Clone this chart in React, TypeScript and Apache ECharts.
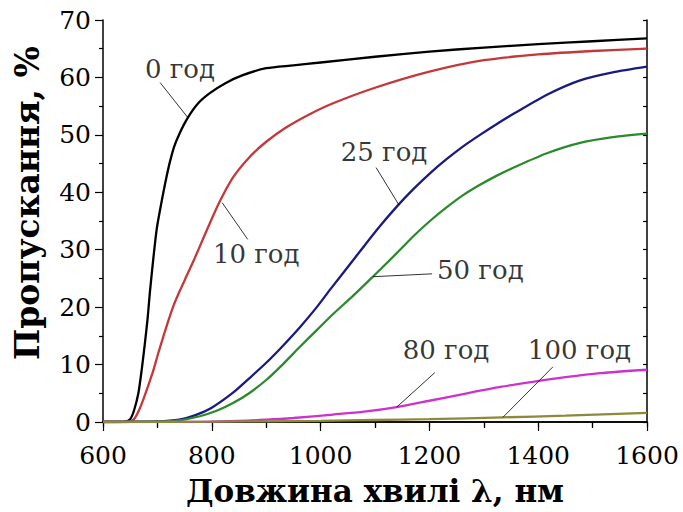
import React, { useEffect, useRef } from "react";
import * as echarts from "echarts";

const xTicks = [600, 800, 1000, 1200, 1400, 1600];
const yTicks = [0, 10, 20, 30, 40, 50, 60, 70];
const xTitle = "Довжина хвилі λ, нм";
const yTitle = "Пропускання, %";

const seriesNames = ["0 год", "10 год", "25 год", "50 год", "80 год", "100 год"];
const seriesColors = ["#000000", "#c4383a", "#1a1a82", "#2b8a2b", "#cc33cc", "#8c8a38"];

const s0: [number, number][] = [
  [600, 0], [630, 0], [640, 0.05], [650, 0.5], [657, 2], [665, 5], [671, 9], [677, 13.7],
  [682, 18], [686, 22.4], [692, 28], [698.6, 33.5], [705, 37], [711, 40], [717, 42.8],
  [723, 45.3], [731, 48], [741, 50.3], [756, 53], [775, 55.5], [797, 57.3], [825, 59],
  [857, 60.4], [900, 61.6], [950, 62.1], [1000, 62.6], [1100, 63.6], [1200, 64.5],
  [1300, 65.2], [1400, 65.8], [1500, 66.3], [1600, 66.8],
];
const s10: [number, number][] = [
  [600, 0], [645, 0], [651, 0.1], [658, 0.6], [666, 2], [674, 3.9], [683, 6.3], [692, 8.8],
  [701, 11.8], [711, 14.9], [720, 17.6], [729, 20.1], [741, 22.8], [754, 25.5], [768, 28.4],
  [784, 31.9], [800, 35.4], [815, 38.5], [839, 42.6], [870, 46.2], [900, 48.8], [935, 51.2],
  [980, 53.6], [1023, 55.5], [1100, 58.2], [1200, 61.0], [1300, 63.0], [1400, 64.0],
  [1500, 64.6], [1600, 65.0],
];
const s25: [number, number][] = [
  [600, 0], [700, 0.1], [740, 0.4], [770, 1.2], [800, 2.5], [839, 5.1], [870, 7.7],
  [901, 10.4], [930, 13.2], [962, 16.5], [993, 20], [1017, 23.0], [1050, 27], [1078, 30.4],
  [1110, 34.2], [1140, 37.5], [1170, 40.5], [1201, 43.3], [1232, 45.8], [1262, 48],
  [1293, 50], [1324, 51.9], [1357, 53.8], [1416, 57.0], [1477, 59.5], [1537, 60.9], [1600, 61.9],
];
const s50: [number, number][] = [
  [600, 0], [700, 0.1], [740, 0.3], [778, 1.0], [810, 2], [839, 3.3], [870, 5.1], [901, 7.4],
  [930, 10], [962, 13.1], [993, 16], [1023, 18.8], [1060, 22], [1096, 25.3], [1140, 29.4],
  [1170, 32.3], [1201, 35.0], [1232, 37.4], [1262, 39.5], [1293, 41.3], [1324, 42.9],
  [1357, 44.4], [1416, 46.8], [1477, 48.6], [1537, 49.6], [1600, 50.2],
];
const s80: [number, number][] = [
  [600, 0], [750, 0], [850, 0.2], [900, 0.4], [950, 0.7], [1023, 1.3], [1080, 1.8],
  [1140, 2.6], [1200, 3.7], [1269, 5.0], [1330, 6.1], [1390, 7.0], [1450, 7.8], [1514, 8.5],
  [1600, 9.1],
];
const s100: [number, number][] = [
  [600, 0], [800, 0.05], [1000, 0.2], [1100, 0.35], [1200, 0.5], [1335, 0.8], [1450, 1.1],
  [1600, 1.6],
];
const seriesData = [s0, s10, s25, s50, s80, s100];

// annotation text anchor (left, middle) in data units
const labelPos: [number, number][] = [
  [677, 61.5], [802, 29.3], [1037, 47.1], [1214, 26.4], [1151, 12.6], [1381, 12.6],
];
// leader lines in data units
const leaders: [[number, number], [number, number]][] = [
  [[705, 59.1], [756, 53.0]],
  [[819, 38.2], [866, 31.8]],
  [[1102, 44.3], [1144, 37.8]],
  [[1096, 25.3], [1205, 25.8]],
  [[1140, 2.6], [1210, 8.6]],
  [[1335, 0.8], [1427, 9.6]],
];

const serif = "DejaVu Serif";

export default function App() {
  const ref = useRef<HTMLDivElement>(null);
  useEffect(() => {
    if (!ref.current) return;
    const chart = echarts.init(ref.current, null, { renderer: "svg" });
    const axisLine = { show: true, lineStyle: { color: "#000", width: 1.5 } };
    const lineSeries = seriesData.map((d, i) => ({
      type: "line",
      name: seriesNames[i],
      data: d,
      showSymbol: false,
      symbol: "none",
      smooth: 0.25,
      lineStyle: { color: seriesColors[i], width: 2.3 },
      z: 3,
    }));
    chart.setOption({
      animation: false,
      backgroundColor: "#fff",
      textStyle: { fontFamily: serif, color: "#000" },
      grid: { left: 103, top: 20, right: 36, bottom: 90, outerBoundsMode: "none", containLabel: false },
      graphic: [
        {
          type: "text",
          x: 27,
          y: 203,
          rotation: Math.PI / 2,
          style: {
            text: yTitle,
            fill: "#000",
            font: `bold 33px ${serif}`,
            textAlign: "center",
            textVerticalAlign: "middle",
          },
        },
      ],
      xAxis: [
        {
          type: "value",
          min: 600,
          max: 1600,
          interval: 200,
          axisLine,
          axisTick: { show: true, inside: false, length: 9, lineStyle: { color: "#000", width: 1.2 } },
          minorTick: { show: true, splitNumber: 2, length: 6, lineStyle: { color: "#000", width: 1.2 } },
          axisLabel: { color: "#000", fontFamily: serif, fontSize: 25, margin: 21, formatter: (v: number) => (xTicks.includes(v) ? String(v) : "") },
          splitLine: { show: false },
          name: xTitle,
          nameLocation: "middle",
          nameGap: 53,
          nameTextStyle: { color: "#000", fontFamily: serif, fontSize: 31, fontWeight: "bold" },
        },
        {
          type: "value",
          position: "top",
          min: 600,
          max: 1600,
          interval: 100,
          axisLine,
          axisTick: { show: true, inside: true, length: 5, lineStyle: { color: "#000", width: 1.2 } },
          axisLabel: { show: false },
          splitLine: { show: false },
        },
      ],
      yAxis: [
        {
          type: "value",
          min: 0,
          max: 70,
          interval: 10,
          axisLine,
          axisTick: { show: true, inside: false, length: 8, lineStyle: { color: "#000", width: 1.2 } },
          minorTick: { show: true, splitNumber: 2, length: 4, lineStyle: { color: "#000", width: 1.2 } },
          axisLabel: { color: "#000", fontFamily: serif, fontSize: 25, margin: 12, formatter: (v: number) => (yTicks.includes(v) ? String(v) : "") },
          splitLine: { show: false },
        },
        {
          type: "value",
          position: "right",
          min: 0,
          max: 70,
          interval: 5,
          axisLine,
          axisTick: { show: true, inside: true, length: 4, lineStyle: { color: "#000", width: 1.2 } },
          axisLabel: { show: false },
          splitLine: { show: false },
        },
      ],
      series: [
        ...lineSeries,
        {
          type: "lines",
          coordinateSystem: "cartesian2d",
          data: leaders.map((c) => ({ coords: c })),
          lineStyle: { color: "#000", width: 0.8, opacity: 1 },
          symbol: "none",
          z: 4,
        },
        {
          type: "scatter",
          data: labelPos.map((p, i) => [p[0], p[1], seriesNames[i]]),
          symbolSize: 0,
          label: {
            show: true,
            position: "right",
            distance: 0,
            formatter: (p: any) => p.value[2],
            color: "#000",
            fontFamily: serif,
            fontSize: 26,
          },
          z: 5,
        },
      ],
    });
    return () => chart.dispose();
  }, []);
  return <div ref={ref} style={{ width: 683, height: 512, position: "absolute", left: 0, top: 0 }} />;
}
